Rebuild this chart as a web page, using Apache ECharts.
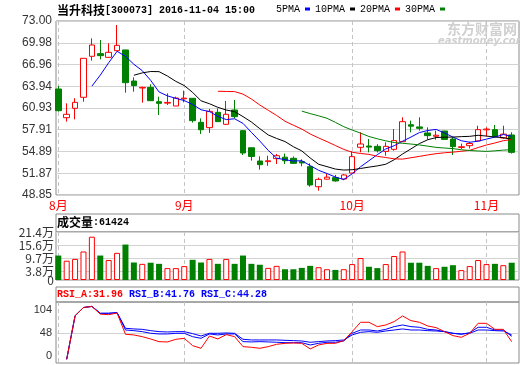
<!DOCTYPE html>
<html><head><meta charset="utf-8">
<script src="https://cdn.jsdelivr.net/npm/echarts@6/dist/echarts.min.js"></script>
<style>html,body{margin:0;padding:0;background:#fff}#c{width:520px;height:365px}</style>
</head><body><div id="c"></div>
<script>
// ---------- data ----------
const dates = [
 '2016-08-11','2016-08-12','2016-08-15','2016-08-16','2016-08-17','2016-08-18','2016-08-19','2016-08-22','2016-08-23','2016-08-24',
 '2016-08-25','2016-08-26','2016-08-29','2016-08-30','2016-08-31','2016-09-01','2016-09-02','2016-09-05','2016-09-06','2016-09-07',
 '2016-09-08','2016-09-09','2016-09-12','2016-09-13','2016-09-14','2016-09-19','2016-09-20','2016-09-21','2016-09-22','2016-09-23',
 '2016-09-26','2016-09-27','2016-09-28','2016-09-29','2016-09-30','2016-10-10','2016-10-11','2016-10-12','2016-10-13','2016-10-14',
 '2016-10-17','2016-10-18','2016-10-19','2016-10-20','2016-10-21','2016-10-24','2016-10-25','2016-10-26','2016-10-27','2016-10-28',
 '2016-10-31','2016-11-01','2016-11-02','2016-11-03','2016-11-04'];
const open  = [63.56,59.58,60.88,62.41,68.10,68.47,67.96,68.88,68.98,64.67,63.70,63.79,61.80,61.60,61.20,62.20,62.27,58.94,58.20,60.32,58.66,60.65,57.78,55.41,53.57,53.48,53.90,54.10,53.94,53.48,52.78,50.00,51.05,51.26,51.07,51.90,55.47,55.65,55.60,54.90,55.19,56.25,58.60,58.30,57.46,57.00,57.73,56.62,55.45,55.70,56.35,57.90,57.92,56.76,57.18];
const close = [60.56,60.05,61.71,67.82,69.67,68.19,68.65,69.62,64.44,64.03,63.79,61.94,61.57,61.70,62.31,62.30,59.17,57.91,60.46,59.03,60.05,59.72,54.68,54.20,53.06,53.60,54.30,53.60,53.24,53.30,50.24,51.02,51.33,50.80,51.63,54.17,55.93,55.50,55.00,55.60,56.40,59.03,58.40,58.10,57.09,57.15,56.57,55.56,55.55,56.00,57.92,58.00,56.99,57.30,54.77];
const low   = [60.42,59.03,59.35,61.80,67.50,67.68,67.90,68.80,63.05,63.19,61.67,61.90,59.95,61.34,61.20,61.71,58.90,57.32,57.46,59.00,58.60,59.48,54.40,53.62,52.37,52.90,53.15,53.15,53.20,52.83,50.00,49.45,51.00,50.70,50.90,51.85,54.77,54.77,54.75,54.30,55.00,56.20,57.55,57.78,56.53,56.53,56.50,54.40,55.24,55.30,56.30,56.99,56.85,56.62,54.60];
const high  = [63.98,61.57,62.27,67.82,70.59,70.36,69.90,72.44,69.00,65.18,63.89,64.21,62.50,62.96,62.50,63.33,62.30,59.49,60.79,60.88,61.90,62.04,57.83,55.41,54.22,54.30,54.55,54.60,54.20,53.80,53.25,51.26,51.80,51.64,51.75,54.91,57.55,56.62,55.90,56.16,58.00,59.63,59.17,59.63,58.24,57.78,57.75,56.85,55.98,56.25,58.47,58.24,58.57,58.47,57.55];
const volume = [10.9,8.6,9.4,12.7,19.3,10.9,8.9,12.1,15.8,7.8,7.2,7.7,7.2,5.3,5.3,6.2,9.0,7.8,9.4,7.2,9.4,7.2,10.9,7.2,6.8,5.4,6.3,4.8,4.8,5.4,6.3,5.7,4.8,4.5,4.8,7.1,9.8,5.9,5.3,7.1,10.7,12.7,7.7,7.7,6.3,5.3,5.9,6.6,4.4,6.2,8.9,7.1,7.2,6.6,7.7]; // 万
const ma5  = [null,null,null,null,63.96,65.49,67.21,68.79,68.11,66.99,66.11,64.76,63.15,62.61,62.26,61.96,61.41,60.68,60.43,59.77,59.32,59.43,58.79,57.54,56.34,55.05,53.97,53.75,53.56,53.61,52.94,52.28,51.83,51.34,51.00,51.79,52.77,53.61,54.45,55.24,55.69,56.31,56.89,57.51,57.80,57.95,57.46,56.89,56.38,56.17,56.32,56.61,56.89,57.24,57.00];
const ma10 = [null,null,null,null,null,null,null,null,null,65.47,65.80,65.99,65.97,65.36,64.62,64.04,63.09,61.92,61.52,61.02,60.64,60.42,59.73,58.98,58.06,57.19,56.70,56.27,55.55,54.97,53.99,53.12,52.79,52.45,52.31,52.36,52.53,52.72,52.89,53.12,53.74,54.54,55.25,55.98,56.52,56.82,56.88,56.89,56.95,56.99,57.14,57.03,56.89,56.81,56.58];
const ma20 = [null,null,null,null,null,null,null,null,null,null,null,null,null,null,null,null,null,null,null,63.25,63.22,63.20,62.85,62.17,61.34,60.61,59.89,59.09,58.53,58.00,57.32,56.77,56.26,55.72,55.18,54.78,54.61,54.49,54.22,54.05,53.87,53.83,54.02,54.21,54.41,54.59,54.71,54.80,54.92,55.05,55.44,55.79,56.07,56.39,56.55];
const ma30 = [null,null,null,null,null,null,null,null,null,null,null,null,null,null,null,null,null,null,null,null,null,null,null,null,null,null,null,null,null,60.49,60.15,59.84,59.50,58.93,58.33,57.86,57.44,56.97,56.65,56.37,56.13,56.03,55.92,55.80,55.63,55.46,55.37,55.29,55.13,55.03,54.96,54.90,54.98,55.08,55.14];
const rsiA = [null,0,79,94,96,82,81,84,45.4,44.2,41.1,36.9,32.0,31.5,36.3,38.1,24.8,20.0,42.3,36.9,44.8,41.1,23.0,21.8,20.0,23.0,27.2,29.0,29.6,29.0,18.8,26.0,29.0,29.0,33.9,50.2,67.2,67.2,59.3,62.3,68.4,78.6,70.2,67.2,60.5,57.5,50.2,43.0,39.9,47.2,65.3,65.3,54.4,54.4,31.96];
const rsiB = [null,0,79,94,96,83.5,83.5,84.7,53.2,52.0,50.2,47.2,46.0,46.0,47.2,47.2,41.1,38.1,46.0,44.2,46.0,46.0,32.1,31.5,32.1,31.5,30.9,30.2,30.2,30.2,26.0,29.0,30.9,30.9,33.3,47.2,53.2,53.2,51.4,54.4,59.3,62.3,59.3,58.1,54.4,53.2,50.2,47.2,45.4,48.4,58.1,58.1,53.2,53.2,41.76];
const rsiC = [null,0,79,94,96,83.5,83.5,84.7,56.3,55.1,54.4,52.0,50.2,49.6,50.2,50.2,46.6,42.3,47.2,47.2,47.8,47.2,36.3,35.1,35.1,35.1,35.1,34.5,33.9,33.3,30.9,32.1,33.3,33.9,35.1,44.2,49.0,50.2,49.0,51.4,53.2,55.1,53.2,53.2,52.0,51.4,50.2,47.2,46.0,47.2,53.2,53.2,52.0,51.4,44.28];
const priceTicks  = [48.85,51.87,54.89,57.91,60.93,63.94,66.96,69.98,73.00];
const volumeTicks = [3.8,9.7,15.6,21.4];
const volumeZero  = [0];
const rsiTicks    = [0,48,104];
const stockTitle  = '当升科技';
const stockCode   = '[300073] 2016-11-04 15:00';
const lastVolume  = 61424;
const rsiLast     = ['31.96','41.76','44.28'];

// ---------- chart ----------
const monthStarts = dates.map((d,i)=> (i===0 || d.slice(5,7)!==dates[i-1].slice(5,7)) ? i : -1).filter(i=>i>=0);
const FRAME='#8a8a8a', GRID='#d2d2d2', DASH='#c4c4c4';
const RED='#ff0000', GREEN='#008000', BLUE='#0000ff';
const MONO='Liberation Mono';
const up = i => close[i] >= open[i];

function xAxis(gi, withLabel){
  return {type:'value', gridIndex:gi, min:-0.274, max:54.87,
    axisLine:{show:false}, axisTick:{show:false, customValues:monthStarts},
    axisLabel: withLabel ? {show:true, customValues:monthStarts, color:RED, fontSize:12, fontFamily:'Noto Sans CJK SC', margin:4,
       hideOverlap:false, showMinLabel:true, showMaxLabel:true,
       formatter:v=> (+dates[v].slice(5,7)) + '月'} : {show:false},
    splitLine:{show:true, lineStyle:{color:DASH, type:[4,3], width:1}}};
}
const numFont = {color:'#333', fontFamily:'Liberation Sans', fontSize:12};
const volLabel = {margin:2, hideOverlap:false, showMinLabel:true, showMaxLabel:true, color:'#333', fontFamily:'Noto Sans CJK SC', fontSize:12};

const option = {
  animation:false,
  backgroundColor:'#fff',
  title:[
    {text:'{a|'+stockTitle+'}{b|'+stockCode+'}', left:57, top:4, padding:0,
     textStyle:{rich:{a:{fontFamily:'Noto Sans CJK SC', fontSize:12, color:'#000'}, b:{fontFamily:MONO, fontSize:10, color:'#000'}}}},
    {text:'{a|成交量}{b|:'+lastVolume+'}', left:57, top:216, padding:0,
     textStyle:{rich:{a:{fontFamily:'Noto Sans CJK SC', fontSize:12, color:'#000'}, b:{fontFamily:MONO, fontSize:10, color:'#000'}}}},
    {text:'{a|RSI_A:'+rsiLast[0]+' }{b|RSI_B:'+rsiLast[1]+' RSI_C:'+rsiLast[2]+'}', left:57, top:289, padding:0,
     textStyle:{rich:{a:{fontFamily:MONO, fontSize:10, color:RED}, b:{fontFamily:MONO, fontSize:10, color:BLUE}}}}
  ],
  legend:{data:['5PMA','10PMA','20PMA','30PMA'], left:276, top:4, padding:0, icon:'rect', itemWidth:5, itemHeight:3, itemGap:5,
    align:'right', selectedMode:false, textStyle:{fontFamily:MONO, fontSize:10, color:'#000'}},
  grid:[
    {left:56, top:21, width:463, height:174, show:true, borderColor:FRAME, borderWidth:1, backgroundColor:'transparent', outerBoundsMode:'none', containLabel:false},
    {left:56, top:232, width:463, height:48, show:true, borderColor:FRAME, borderWidth:1, backgroundColor:'transparent', outerBoundsMode:'none', containLabel:false},
    {left:56, top:302, width:463, height:61, show:true, borderColor:FRAME, borderWidth:1, backgroundColor:'transparent', outerBoundsMode:'none', containLabel:false}
  ],
  xAxis:[xAxis(0,true), xAxis(1,false), xAxis(2,false)],
  yAxis:[
    {type:'value', gridIndex:0, position:'left', min:48.85, max:73, axisLine:{show:false}, axisTick:{show:false, customValues:priceTicks},
     axisLabel:Object.assign({customValues:priceTicks, margin:4, hideOverlap:false, showMinLabel:true, showMaxLabel:true, formatter:v=>v.toFixed(2)}, numFont),
     splitLine:{show:true, lineStyle:{color:GRID, width:1}}},
    {type:'value', gridIndex:1, position:'left', min:0, max:21.4, axisLine:{show:false}, axisTick:{show:false, customValues:volumeTicks},
     axisLabel:Object.assign({customValues:volumeTicks, formatter:v=> v+'万'}, volLabel),
     splitLine:{show:true, lineStyle:{color:GRID, width:1}}},
    {type:'value', gridIndex:2, position:'left', min:-6.7, max:104, axisLine:{show:false}, axisTick:{show:false, customValues:rsiTicks},
     axisLabel:{customValues:rsiTicks, margin:4, hideOverlap:false, showMinLabel:true, showMaxLabel:true,
       color:'#333', fontFamily:'Liberation Sans', fontSize:11,
       formatter:v=> v===104 ? '{t|104}' : (v===0 ? '{b|0}' : ''+v),
       rich:{t:{padding:[16,0,0,0], color:'#333', fontFamily:'Liberation Sans', fontSize:11},
             b:{padding:[0,0,7,0], color:'#333', fontFamily:'Liberation Sans', fontSize:11}}},
     splitLine:{show:true, lineStyle:{color:['rgba(0,0,0,0)', GRID, 'rgba(0,0,0,0)'], width:1}}},
    {type:'value', gridIndex:1, position:'left', offset:0, min:0, max:21.4, axisLine:{show:false}, axisTick:{show:false, customValues:volumeZero},
     axisLabel:Object.assign({customValues:volumeZero, formatter:v=> ''+v}, volLabel),
     splitLine:{show:false}}
  ],
  graphic:[
    {type:'rect', shape:{x:56, y:214, width:463, height:18}, style:{fill:'none', stroke:FRAME, lineWidth:1}, silent:true},
    {type:'rect', shape:{x:56, y:287, width:463, height:15}, style:{fill:'none', stroke:FRAME, lineWidth:1}, silent:true},
    {type:'text', left:447, top:22, silent:true, style:{text:'东方财富网', fill:'#d0d0d0', font:'bold 14px "Noto Sans CJK SC"'}},
    {type:'text', left:438, top:36, silent:true, style:{text:'eastmoney.com', fill:'#d0d0d0', font:'bold italic 10px "DejaVu Sans"'}}
  ],
  series:[
    {type:'candlestick', name:'K', xAxisIndex:0, yAxisIndex:0, barWidth:6,
     data:dates.map((d,i)=>[i, open[i], close[i], low[i], high[i]]),
     itemStyle:{color:'#ffffff', color0:GREEN, borderColor:RED, borderColor0:GREEN, borderWidth:1}},
    {type:'line', name:'5PMA', xAxisIndex:0, yAxisIndex:0, data:ma5.map((v,i)=>[i,v]), symbol:'none', lineStyle:{color:BLUE, width:1}, itemStyle:{color:BLUE}},
    {type:'line', name:'10PMA', xAxisIndex:0, yAxisIndex:0, data:ma10.map((v,i)=>[i,v]), symbol:'none', lineStyle:{color:'#000', width:1}, itemStyle:{color:'#000'}},
    {type:'line', name:'20PMA', xAxisIndex:0, yAxisIndex:0, data:ma20.map((v,i)=>[i,v]), symbol:'none', lineStyle:{color:RED, width:1}, itemStyle:{color:RED}},
    {type:'line', name:'30PMA', xAxisIndex:0, yAxisIndex:0, data:ma30.map((v,i)=>[i,v]), symbol:'none', lineStyle:{color:GREEN, width:1}, itemStyle:{color:GREEN}},
    {type:'bar', name:'VOL', xAxisIndex:1, yAxisIndex:1, barWidth:6,
     data:volume.map((v,i)=>({value:[i,v], itemStyle: up(i) ? {color:'#ffffff', borderColor:RED, borderWidth:1} : {color:GREEN, borderWidth:0}}))},
    {type:'line', name:'RSI_C', xAxisIndex:2, yAxisIndex:2, data:rsiC.map((v,i)=>[i,v]), symbol:'none', lineStyle:{color:BLUE, width:1}},
    {type:'line', name:'RSI_B', xAxisIndex:2, yAxisIndex:2, data:rsiB.map((v,i)=>[i,v]), symbol:'none', lineStyle:{color:BLUE, width:1}},
    {type:'line', name:'RSI_A', xAxisIndex:2, yAxisIndex:2, data:rsiA.map((v,i)=>[i,v]), symbol:'none', lineStyle:{color:RED, width:1}}
  ]
};
const chart = echarts.init(document.getElementById('c'), null, {renderer:'canvas'});
chart.setOption(option);
</script>
</body></html>
